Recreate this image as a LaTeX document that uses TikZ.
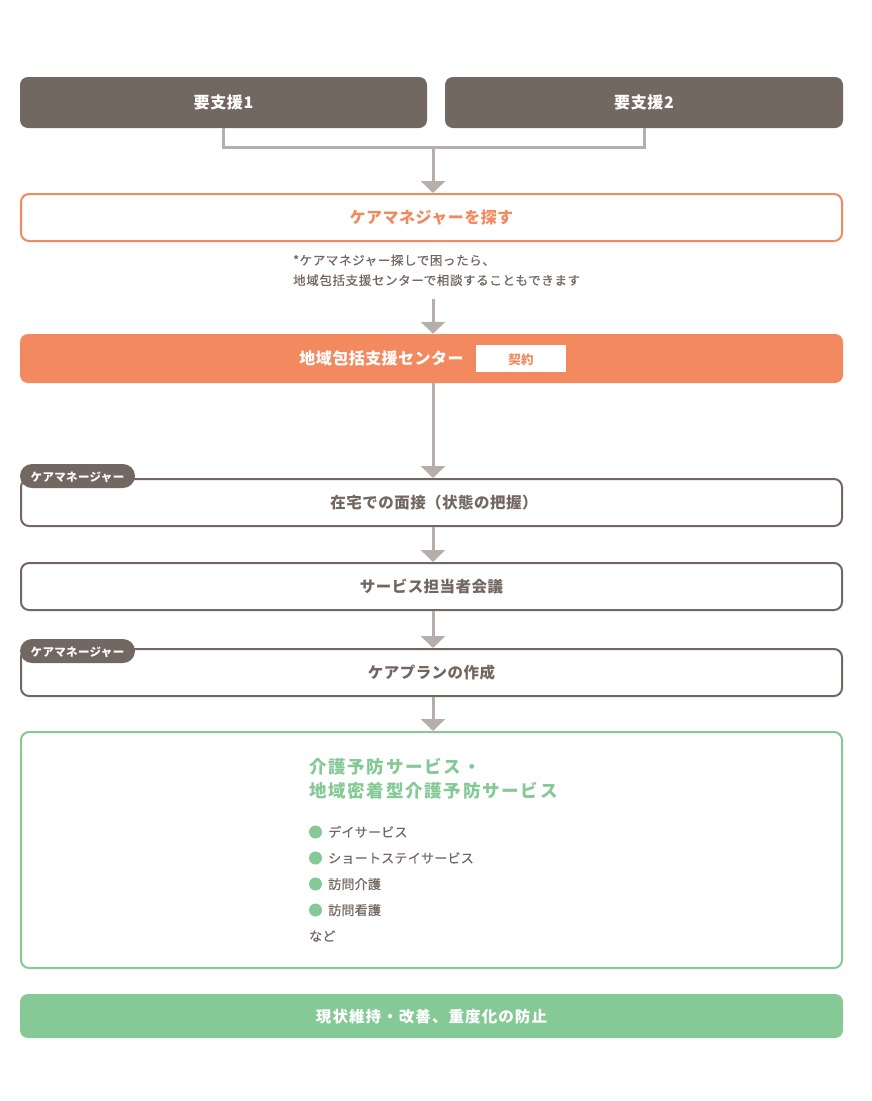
\documentclass[tikz,border=0pt]{standalone}
\usepackage{fontspec}
\setmainfont{Noto Sans CJK JP}
\usetikzlibrary{arrows.meta}
\definecolor{cbrown}{HTML}{736762}
\definecolor{corange}{HTML}{F38A5F}
\definecolor{cgray}{HTML}{B6AEAB}
\definecolor{cgreen}{HTML}{85C996}
\newcommand{\fs}[2]{\fontsize{#1pt}{#1pt}\selectfont\addfontfeature{LetterSpace=#2}}
\tikzset{
  darkbox/.style={fill=cbrown, draw=none, rounded corners=8pt, minimum width=#1, minimum height=51pt, text=white, font=\fs{16}{4}\bfseries, inner sep=0pt, text height=1.3em, text depth=0.1em},
  linebox/.style={fill=white, draw=#1, line width=2pt, rounded corners=8pt, minimum width=821pt, minimum height=47pt, inner sep=0pt},
  filledbox/.style={fill=#1, draw=none, rounded corners=8pt, minimum width=823pt, inner sep=0pt},
  tagbox/.style={fill=cbrown, draw=none, rounded corners=12pt, minimum width=115pt, minimum height=24pt, text=white, font=\fs{11.5}{3}\bfseries, inner sep=0pt, text height=1.1em, text depth=0.1em},
  conn/.style={draw=cgray, line width=3pt},
  arr/.style={draw=cgray, line width=3pt, -{Triangle[width=24pt,length=12pt]}},
  boxtext/.style={font=\fs{15.5}{3}\bfseries, inner sep=0pt, text height=1.3em, text depth=0.1em},
  item/.style={anchor=west, font=\fs{13}{2}\addfontfeature{FakeBold=0.3}, text=cbrown, inner sep=0pt, text height=1.1em, text depth=0.1em},
  dot/.style={circle, fill=cgreen, minimum size=13pt, inner sep=0pt},
  notetext/.style={anchor=base west, font=\fs{12.5}{5}\addfontfeature{FakeBold=0.6}, text=cbrown, inner sep=0pt},
}
\begin{document}
\begin{tikzpicture}[x=1pt,y=-1pt]
\useasboundingbox (0,0) rectangle (871,1101);
% top boxes
\node[darkbox=407pt] (b1) at (223.5,102.5) {要支援1};
\node[darkbox=398pt] (b2) at (644,102.5) {要支援2};
\coordinate (j) at (433,147);
\draw[conn] (b1.south) -- ++(0,19) -| (b2.south);
% search box
\node[linebox=corange, text=corange, boxtext, font=\fs{16}{3}\bfseries] (search) at (431.5,217.5) {ケアマネジャーを探す};
\draw[arr] (j) -- (search.north -| j);
% note
\node[notetext] (note1) at (293,265) {*ケアマネジャー探しで困ったら、};
\node[notetext] (note2) at (293,285) {地域包括支援センターで相談することもできます};
\coordinate (n1) at (433,299);
% center
\node[filledbox=corange, minimum height=49pt] (center) at (431.5,358.5) {};
\node[text=white, boxtext, font=\fs{16}{3}\bfseries] (centertext) at (381.5,358.5) {地域包括支援センター};
\node[fill=white, minimum width=90pt, minimum height=27pt, inner sep=0pt, text=corange, font=\fs{12.5}{3}\bfseries, text height=1.2em, text depth=0.1em] (keiyaku) at (521,358.5) {契約};
\draw[arr] (n1) -- (center.north -| n1);
% interview
\node[linebox=cbrown] (interview) at (431.5,502.5) {};
\node[text=cbrown, boxtext] (interviewtext) at (434,502.5) {在宅での面接（状態の把握）};
\node[tagbox] (tag1) at (77.5,476) {ケアマネージャー};
\draw[arr] (center.south -| j) -- (interview.north -| j);
% meeting
\node[linebox=cbrown, text=cbrown, boxtext] (meeting) at (431.5,586.5) {サービス担当者会議};
\draw[arr] (interview.south -| j) -- (meeting.north -| j);
% plan
\node[linebox=cbrown, text=cbrown, boxtext] (plan) at (431.5,672.5) {ケアプランの作成};
\node[tagbox] (tag2) at (77.5,651) {ケアマネージャー};
\draw[arr] (meeting.south -| j) -- (plan.north -| j);
% services
\node[fill=white, draw=cgreen, line width=2pt, rounded corners=8pt, minimum width=821pt, minimum height=236pt, inner sep=0pt] (service) at (431.5,850) {};
\draw[arr] (plan.south -| j) -- (service.north -| j);
\node[anchor=west, inner sep=0pt, text=cgreen, font=\fs{17.5}{10}\bfseries, text height=1.15em, text depth=0.1em] (t1) at (309,768) {介護予防サービス・};
\node[anchor=west, inner sep=0pt, text=cgreen, font=\fs{17.5}{10}\bfseries, text height=1.15em, text depth=0.1em] (t2) at (309,792) {地域密着型介護予防サービス};
\node[dot] (d1) at (315.5,832) {};
\node[item] (i1) at (328,832) {デイサービス};
\node[dot] (d2) at (315.5,858) {};
\node[item] (i2) at (328,858) {ショートステイサービス};
\node[dot] (d3) at (315.5,884) {};
\node[item] (i3) at (328,884) {訪問介護};
\node[dot] (d4) at (315.5,910) {};
\node[item] (i4) at (328,910) {訪問看護};
\node[item] (i5) at (309,936) {など};
% result
\node[filledbox=cgreen, minimum height=44pt, text=white, boxtext, font=\fs{15.5}{7}\bfseries] (result) at (431.5,1016) {現状維持・改善、重度化の防止};
\end{tikzpicture}
\end{document}
